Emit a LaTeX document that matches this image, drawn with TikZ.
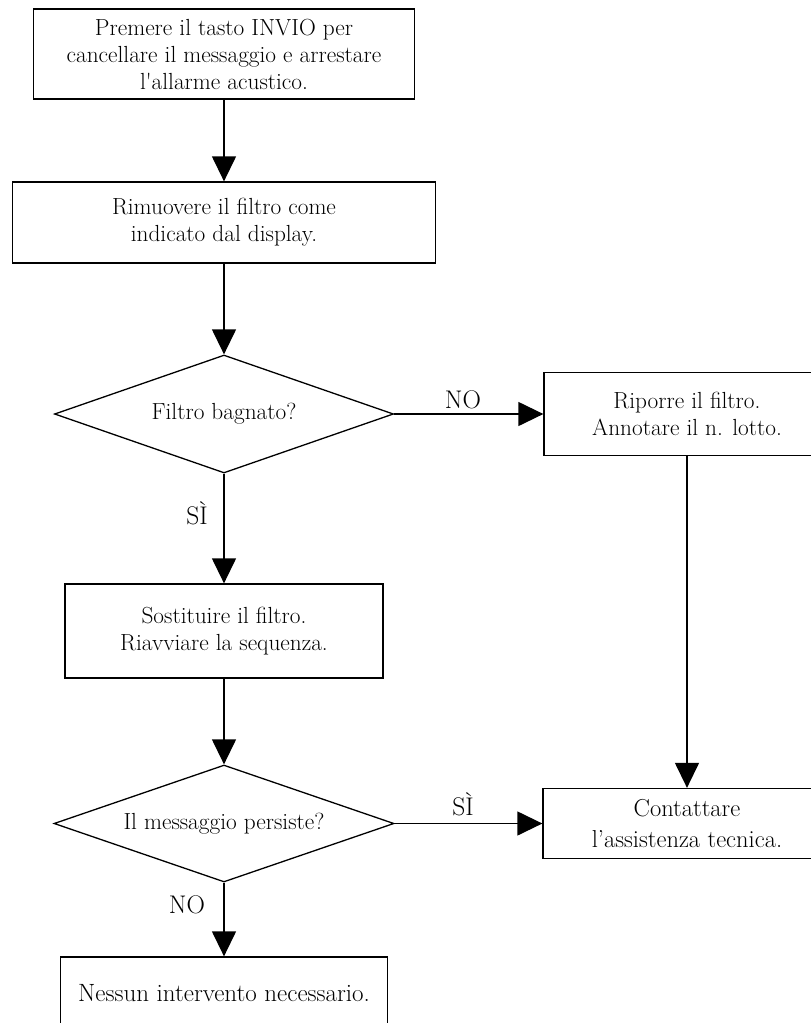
\documentclass[tikz,border=0pt]{standalone}
\usepackage{fontspec}
\usetikzlibrary{shapes.geometric,arrows.meta}
\begin{document}
\begin{tikzpicture}[x=1pt,y=-1pt,
  txt/.style={font=\fontsize{23.3}{27}\selectfont},
  box/.style={draw, line width=1.3pt, rectangle, align=center, inner sep=0pt, txt},
  dia/.style={draw, line width=1.3pt, diamond, aspect=2.9, inner sep=0pt, txt},
  flow/.style={line width=1.3pt, -{Triangle[width=24pt,length=25pt]}},
  lbl/.style={inner sep=0pt, font=\fontsize{25.5}{29}\selectfont}]
\useasboundingbox (0,0) rectangle (811,1023);
\clip (0,0) rectangle (811,1023);

\node[box, minimum width=381pt, minimum height=90pt] (b1) at (224,54)
  {Premere il tasto INVIO per\\cancellare il messaggio e arrestare\\l\textquotesingle allarme acustico.};
\node[box, minimum width=423pt, minimum height=81pt] (b2) at (224,222.5)
  {Rimuovere il filtro come\\indicato dal display.};
\node[dia, minimum width=339pt, minimum height=118pt] (d1) at (224,414)
  {Filtro bagnato?};
\node[box, minimum width=286pt, minimum height=83pt] (b3) at (687,414)
  {Riporre il filtro.\\Annotare il n. lotto.};
\node[box, minimum width=318pt, minimum height=94pt] (b4) at (224,631)
  {Sostituire il filtro.\\Riavviare la sequenza.};
\node[dia, minimum width=340pt, minimum height=117pt] (d2) at (224,823.5)
  {Il messaggio persiste?};
\node[box, minimum width=288pt, minimum height=70pt, font=\fontsize{24.5}{31}\selectfont] (b5) at (687,823.5)
  {Contattare\\l’assistenza tecnica.};
\node[box, minimum width=327pt, minimum height=72pt, font=\fontsize{25}{29}\selectfont] (b6) at (224,993)
  {Nessun intervento necessario.};

\draw[flow] (b1) -- (b2);
\draw[flow] (b2) -- (d1);
\draw[flow] (d1.east) -- (b3.west);
\draw[flow] (d1.south) -- (b4.north);
\draw[flow] (b4.south) -- (d2.north);
\draw[flow] (b3.south) -- (b5.north);
\draw[flow] (d2.east) -- (b5.west);
\draw[flow] (d2.south) -- (b6.north);

\node[lbl] (l1) at (463,400) {NO};
\node[lbl] (l2) at (197,513) {SÌ};
\node[lbl] (l3) at (463,804) {SÌ};
\node[lbl] (l4) at (187,905) {NO};
\end{tikzpicture}
\end{document}
